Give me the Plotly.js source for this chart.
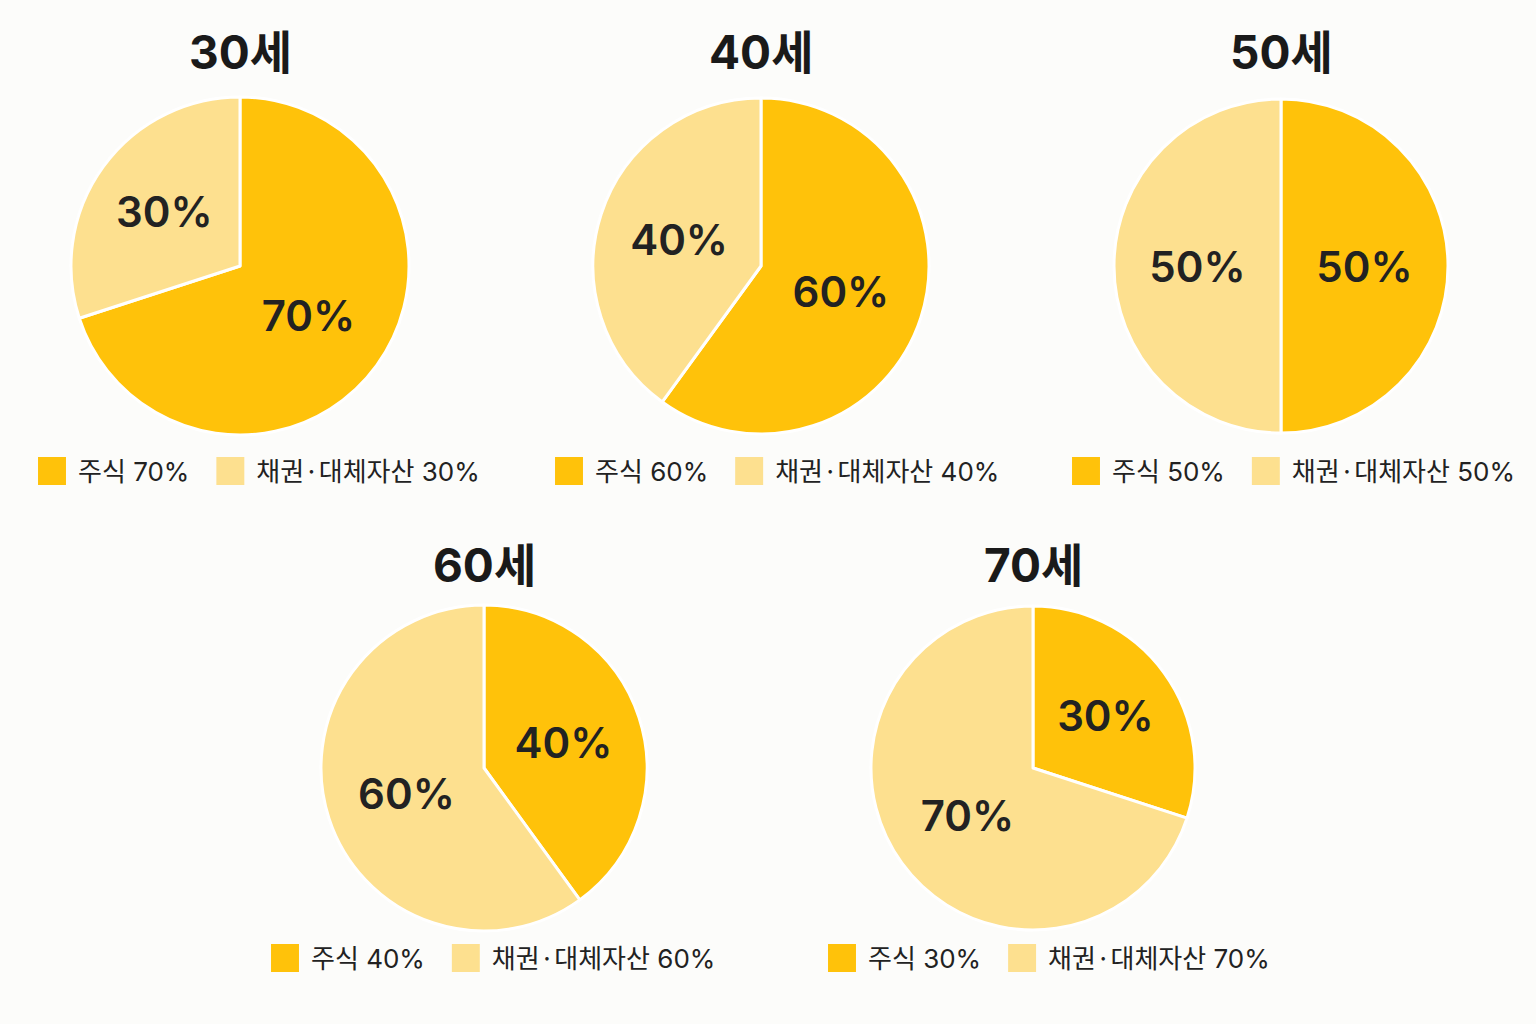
<!DOCTYPE html>
<html>
<head>
<meta charset="utf-8">
<script src="https://cdn.plot.ly/plotly-3.0.1.min.js"></script>
<style>
  html, body { margin: 0; padding: 0; background: #fcfcfa; }
  #chart { width: 1536px; height: 1024px; }
</style>
</head>
<body>
<div id="chart"></div>
<script>
var ages = ["30세", "40세", "50세", "60세", "70세"];
var stockShare = [70, 60, 50, 40, 30];
var bondShare = [30, 40, 50, 60, 70];
var stockLabel = "주식";
// the middle dot is drawn with the CJK font so it gets its wider spacing
var bondLabel = "채권<span style=\"font-family:'Noto Sans CJK KR'\">·</span>대체자산";

var stockColor = "#FFC20A";
var bondColor = "#FDE08F";
var font = "Inter, 'Noto Sans CJK KR', sans-serif";

// pie centre and radius in pixels, title height, legend left edge
var W = 1536, H = 1024;
var boxes = [
    {cx: 240, cy: 266, r: 169, ty: 52, lx: 38, ly: 471},
    {cx: 761, cy: 266, r: 168, ty: 52, lx: 555, ly: 471},
    {cx: 1281, cy: 266, r: 167, ty: 52, lx: 1072, ly: 471},
    {cx: 484, cy: 768, r: 163, ty: 565, lx: 271, ly: 958},
    {cx: 1033, cy: 768, r: 162, ty: 565, lx: 828, ly: 958}
];

var data = [];
var annotations = [];
var layout = {
    width: W,
    height: H,
    margin: {l: 0, r: 0, t: 0, b: 0},
    paper_bgcolor: "#fcfcfa",
    plot_bgcolor: "#fcfcfa",
    font: {family: font, color: "#222"},
    showlegend: true
};

var pad = "\u00a0\u00a0\u00a0";
for (var i = 0; i < ages.length; i++) {
    var b = boxes[i];
    var legName = i == 0 ? "legend" : "legend" + (i + 1);
    data.push({
        type: "pie",
        values: [stockShare[i], bondShare[i]],
        labels: [stockLabel + " " + stockShare[i] + "%" + pad, bondLabel + " " + bondShare[i] + "%"],
        marker: {colors: [stockColor, bondColor], line: {color: "#ffffff", width: 3}},
        sort: false,
        direction: "clockwise",
        rotation: 0,
        textinfo: "percent",
        textposition: "inside",
        insidetextorientation: "horizontal",
        insidetextfont: {size: 42, color: "#222", family: font, weight: 600},
        hoverinfo: "skip",
        legend: legName,
        domain: {
            x: [(b.cx - b.r) / W, (b.cx + b.r) / W],
            y: [1 - (b.cy + b.r) / H, 1 - (b.cy - b.r) / H]
        }
    });
    layout[legName] = {
        orientation: "h",
        x: b.lx / W,
        xanchor: "left",
        y: 1 - b.ly / H,
        yanchor: "middle",
        bgcolor: "rgba(0,0,0,0)",
        font: {size: 26, color: "#222", family: font}
    };
    annotations.push({
        text: ages[i],
        x: b.cx / W,
        y: 1 - b.ty / H,
        xref: "paper",
        yref: "paper",
        xanchor: "center",
        yanchor: "middle",
        showarrow: false,
        font: {size: 46, color: "#1a1a1a", family: font, weight: "bold"}
    });
}
layout.annotations = annotations;

Plotly.newPlot("chart", data, layout, {staticPlot: true}).then(function () {
    // bigger square swatches like the original
    document.querySelectorAll(".legendpoints path").forEach(function (p) {
        p.setAttribute("transform", "translate(14,0) scale(2.33)");
        p.style.strokeWidth = "0";
    });
});
</script>
</body>
</html>
